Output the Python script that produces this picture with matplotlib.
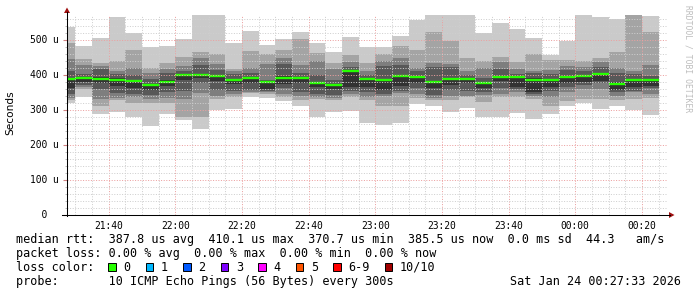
import matplotlib
matplotlib.use("Agg")
import matplotlib.pyplot as plt
from matplotlib.lines import Line2D
from matplotlib.patches import Polygon, Rectangle
from matplotlib.ticker import MultipleLocator, FuncFormatter
import matplotlib.transforms as mtransforms

# ---------------- data (microseconds), 10 pings sorted per 5-min step ----------------
first_bar = "21:25"          # start of first 5-minute step
step_min = 5
view_start = "21:27:33"
view_end = "00:27:33"

p10 = [538, 483, 505, 565, 521, 481, 483, 503, 590, 585, 492, 526, 486, 502, 524, 490, 467, 508,
       481, 481, 511, 557, 590, 590, 590, 519, 548, 531, 507, 457, 498, 590, 565, 560, 590, 569]
p9 = [492, 445, 433, 441, 471, 420, 433, 451, 467, 459, 418, 469, 460, 471, 502, 462, 433, 457,
      433, 460, 483, 471, 522, 497, 448, 440, 452, 438, 459, 443, 443, 440, 448, 467, 585, 522]
p8 = [445, 429, 425, 411, 420, 405, 416, 426, 449, 430, 410, 419, 432, 448, 429, 440, 417, 438,
      410, 441, 448, 419, 433, 432, 410, 419, 436, 417, 411, 414, 426, 424, 438, 419, 412, 429]
p7 = [411, 402, 416, 402, 400, 388, 405, 412, 429, 414, 403, 405, 386, 431, 405, 400, 385, 422,
      400, 426, 429, 410, 424, 424, 400, 391, 416, 403, 407, 403, 414, 410, 424, 405, 403, 397]
p6 = [391, 394, 393, 390, 386, 375, 385, 402, 403, 400, 389, 394, 383, 396, 394, 380, 374, 414,
      392, 389, 400, 397, 384, 392, 392, 380, 396, 397, 390, 389, 396, 399, 407, 380, 388, 389]
median = [388, 391, 389, 387, 382, 372, 381, 399, 399, 397, 386, 391, 379, 392, 390, 377, 371, 411,
          389, 386, 397, 394, 380, 389, 389, 376, 393, 394, 386, 386, 393, 396, 404, 375, 385, 386]
p5 = [362, 381, 378, 369, 362, 358, 368, 386, 390, 383, 375, 377, 360, 374, 377, 365, 359, 367,
      365, 357, 368, 376, 364, 372, 378, 363, 384, 367, 350, 367, 378, 381, 384, 357, 365, 369]
p4 = [345, 372, 360, 348, 345, 343, 350, 355, 376, 357, 355, 357, 355, 362, 351, 346, 343, 355,
      350, 345, 355, 362, 343, 358, 355, 350, 362, 360, 345, 355, 365, 370, 376, 352, 355, 362]
p3 = [333, 365, 330, 335, 338, 330, 335, 331, 348, 340, 345, 350, 350, 345, 340, 338, 335, 346,
      338, 340, 348, 345, 335, 340, 340, 343, 345, 352, 340, 338, 352, 360, 359, 340, 350, 345]
p2 = [328, 359, 311, 329, 319, 321, 321, 281, 279, 332, 338, 348, 345, 338, 329, 332, 329, 336,
      329, 310, 310, 333, 329, 329, 338, 324, 338, 338, 332, 312, 327, 332, 331, 329, 332, 335]
p1 = [321, 338, 289, 295, 281, 255, 289, 270, 246, 300, 304, 336, 335, 327, 310, 281, 295, 298,
      264, 257, 264, 316, 312, 295, 307, 281, 279, 291, 274, 289, 312, 319, 303, 312, 300, 286]

smoke_colors = ["#cacaca", "#a4a4a4", "#7e7e7e", "#585858", "#323232"]

stats_line1 = "median rtt:  387.8 us avg  410.1 us max  370.7 us min  385.5 us now  0.0 ms sd  44.3   am/s"
stats_line2 = "packet loss: 0.00 % avg  0.00 % max  0.00 % min  0.00 % now"
loss_labels = ["0", "1", "2", "3", "4", "5", "6-9", "10/10"]
loss_colors = ["#26ff00", "#00b8ff", "#0059ff", "#7e00ff", "#ff00ff", "#ff5500", "#ff0000", "#a10000"]
probe_text = "probe:       10 ICMP Echo Pings (56 Bytes) every 300s"
date_text = "Sat Jan 24 00:27:33 2026"
watermark = "RRDTOOL / TOBI OETIKER"


def to_min(s):
    parts = [int(v) for v in s.split(":")]
    while len(parts) < 3:
        parts.append(0)
    m = parts[0] * 60 + parts[1] + parts[2] / 60.0 - 21 * 60
    if m < 0:
        m += 24 * 60
    return m


n = len(median)
x0 = to_min(first_bar)
starts = [x0 + i * step_min for i in range(n)]

W, H = 697, 297
fig = plt.figure(figsize=(W / 100, H / 100), dpi=100, facecolor="white")
ax = fig.add_axes([67 / W, (H - 215) / H, 600 / W, 200 / H])
ax.set_facecolor("white")

lows = [p1, p2, p3, p4, p5]
highs = [p10, p9, p8, p7, p6]
for lo, hi, col in zip(lows, highs, smoke_colors):
    heights = [h - l for h, l in zip(hi, lo)]
    ax.bar(starts, heights, bottom=lo, width=step_min, align="edge", color=col,
           linewidth=0, antialiased=False, zorder=1)

ax.hlines(median, starts, [s + step_min for s in starts], color=loss_colors[0],
          linewidth=1.7, zorder=2)

ax.set_xlim(to_min(view_start), to_min(view_end))
ax.set_ylim(0, 571.4)

ax.xaxis.set_major_locator(MultipleLocator(20))
ax.xaxis.set_minor_locator(MultipleLocator(5))
ax.yaxis.set_major_locator(MultipleLocator(100))
ax.yaxis.set_minor_locator(MultipleLocator(20))


def fmt_x(v, pos):
    tot = int(round(v)) + 21 * 60
    tot %= 24 * 60
    return "%02d:%02d" % (tot // 60, tot % 60)


ax.xaxis.set_major_formatter(FuncFormatter(fmt_x))
ax.set_axisbelow(False)
ax.grid(which="minor", color="#cfcfcf", linestyle=(0, (1, 1.6)), linewidth=0.72)
ax.grid(which="major", color="#eca0a0", linestyle=(0, (1, 1.6)), linewidth=0.72)

for sp in ax.spines.values():
    sp.set_visible(False)

mono = "DejaVu Sans Mono"
ax.tick_params(axis="x", which="major", length=0, pad=4.5, labelsize=6.9, labelcolor="#000000")
ax.tick_params(axis="x", which="minor", length=0)
ax.tick_params(axis="y", which="major", length=3, color="#d08080", labelleft=False)
ax.tick_params(axis="y", which="minor", length=1.5, color="#b0b0b0")
for lab in ax.get_xticklabels():
    lab.set_fontfamily(mono)

# y tick labels, left aligned like rrdtool
ytr = mtransforms.blended_transform_factory(fig.transFigure, ax.transData)
for v in range(0, 501, 100):
    txt = "  0" if v == 0 else "%3d u" % v
    ax.text(30 / W, v, txt, transform=ytr, ha="left", va="center", fontsize=6.9,
            family=mono, color="#000000", clip_on=False)

fig.text(10 / W, 1 - 113 / H, "Seconds", rotation=90, ha="center", va="center",
         fontsize=7.6, family="DejaVu Sans", color="#000000")


def fx(px):
    return px / W


def fy(py):
    return 1 - py / H


fig.add_artist(Line2D([fx(67), fx(67)], [fy(215.5), fy(12)], color="#000000", linewidth=0.75))
fig.add_artist(Line2D([fx(62), fx(670)], [fy(215), fy(215)], color="#000000", linewidth=0.75))
fig.add_artist(Polygon([[fx(64), fy(13)], [fx(70), fy(13)], [fx(67), fy(7.5)]], closed=True,
                       facecolor="#a01010", edgecolor="none"))
fig.add_artist(Polygon([[fx(669), fy(212)], [fx(669), fy(218)], [fx(674.5), fy(215)]], closed=True,
                       facecolor="#a01010", edgecolor="none"))

fig.text(fx(688), fy(5), watermark, rotation=270, ha="center", va="top", fontsize=5.8,
         family=mono, color="#bdbdbd")

# legend / stats
lfs = 8.45
cw = 7.07
fig.text(fx(16), fy(243.5), stats_line1, ha="left", va="baseline", fontsize=lfs, family=mono)
fig.text(fx(16), fy(257.3), stats_line2, ha="left", va="baseline", fontsize=lfs, family=mono)
fig.text(fx(16), fy(271.0), "loss color:", ha="left", va="baseline", fontsize=lfs, family=mono)
xpos = 108.3
for lab, col in zip(loss_labels, loss_colors):
    fig.add_artist(Rectangle((fx(xpos), fy(270.7)), 7.7 / W, 8 / H, facecolor=col,
                             edgecolor="#000000", linewidth=0.7, transform=fig.transFigure))
    lx = xpos + 15
    fig.text(fx(lx), fy(271.0), lab, ha="left", va="baseline", fontsize=lfs, family=mono)
    xpos = lx + len(lab) * cw + 15.4
fig.text(fx(16), fy(284.8), probe_text, ha="left", va="baseline", fontsize=lfs, family=mono)
fig.text(fx(681), fy(284.8), date_text, ha="right", va="baseline", fontsize=lfs, family=mono)

fig.savefig("out.png", dpi=100, facecolor="white")
